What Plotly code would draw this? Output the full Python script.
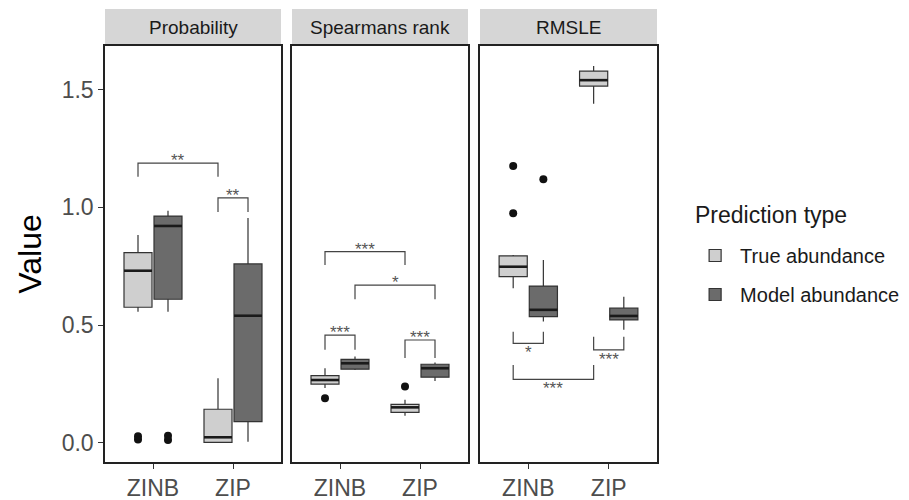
import plotly.graph_objects as go
from plotly.subplots import make_subplots

# ---------------- data ----------------
categories = ["ZINB", "ZIP"]
metrics = ["Probability", "Spearmans rank", "RMSLE"]
types = ["True abundance", "Model abundance"]
legend_title = "Prediction type"

# box statistics per metric & type: [lowerfence, q1, median, q3, upperfence] for ZINB, ZIP
prob_true_zinb = [0.557, 0.576, 0.731, 0.808, 0.883]
prob_true_zip = [0.000, 0.002, 0.024, 0.143, 0.275]
prob_model_zinb = [0.557, 0.610, 0.921, 0.963, 0.986]
prob_model_zip = [0.005, 0.090, 0.540, 0.760, 0.955]

spear_true_zinb = [0.233, 0.250, 0.267, 0.286, 0.317]
spear_true_zip = [0.115, 0.130, 0.151, 0.164, 0.183]
spear_model_zinb = [0.310, 0.313, 0.338, 0.355, 0.367]
spear_model_zip = [0.263, 0.279, 0.317, 0.334, 0.341]

rmsle_true_zinb = [0.657, 0.706, 0.748, 0.794, 0.798]
rmsle_true_zip = [1.440, 1.515, 1.540, 1.578, 1.600]
rmsle_model_zinb = [0.515, 0.536, 0.565, 0.666, 0.777]
rmsle_model_zip = [0.480, 0.522, 0.539, 0.572, 0.621]

# outliers per metric & type: [ZINB points, ZIP points]
prob_true_out = [[0.015, 0.028], []]
prob_model_out = [[0.012, 0.030], []]
spear_true_out = [[0.190], [0.239]]
spear_model_out = [[], []]
rmsle_true_out = [[0.975, 1.176], []]
rmsle_model_out = [[1.119], []]

# significance brackets
br_panel = [0, 0, 1, 1, 1, 1, 2, 2, 2]
br_from = [("ZINB", 0), ("ZIP", 0), ("ZINB", 0), ("ZINB", 1), ("ZINB", 0), ("ZIP", 0), ("ZINB", 0), ("ZIP", 0), ("ZINB", 0)]
br_to = [("ZIP", 0), ("ZIP", 1), ("ZIP", 0), ("ZIP", 1), ("ZINB", 1), ("ZIP", 1), ("ZINB", 1), ("ZIP", 1), ("ZIP", 0)]
br_level = [1.188, 1.040, 0.812, 0.670, 0.458, 0.437, 0.423, 0.395, 0.270]
br_tip = [1.130, 0.980, 0.755, 0.610, 0.395, 0.360, 0.472, 0.451, 0.331]
br_label = ["**", "**", "***", "*", "***", "***", "*", "***", "***"]

y_ticks = [0.0, 0.5, 1.0, 1.5]
y_range = [-0.081, 1.685]

# ---------------- style ----------------
FONT = "Liberation Sans, Arial, sans-serif"
fill_colors = ["#cfcfcf", "#6b6b6b"]
LINE = "#333333"
DODGE = 0.1875
BOX_W = 0.35

stats = {
    0: [(prob_true_zinb, prob_true_zip, prob_true_out), (prob_model_zinb, prob_model_zip, prob_model_out)],
    1: [(spear_true_zinb, spear_true_zip, spear_true_out), (spear_model_zinb, spear_model_zip, spear_model_out)],
    2: [(rmsle_true_zinb, rmsle_true_zip, rmsle_true_out), (rmsle_model_zinb, rmsle_model_zip, rmsle_model_out)],
}

fig = make_subplots(rows=1, cols=3, shared_yaxes=True, horizontal_spacing=0.02)

for p in range(3):
    for t in range(2):
        a, b, outs = stats[p][t]
        off = -DODGE if t == 0 else DODGE
        pos = [i + off for i in range(len(categories))]
        has_pts = any(len(o) for o in outs)
        fig.add_trace(go.Box(
            x=pos,
            lowerfence=[a[0], b[0]], q1=[a[1], b[1]], median=[a[2], b[2]],
            q3=[a[3], b[3]], upperfence=[a[4], b[4]],
            y=outs if has_pts else None, width=BOX_W,
            boxpoints="outliers" if has_pts else False, jitter=0, pointpos=0,
            name=types[t], legendgroup=types[t], showlegend=(p == 0),
            fillcolor=fill_colors[t],
            line=dict(color=LINE, width=1.2),
            marker=dict(color="#111111", size=8, line=dict(width=0)),
            whiskerwidth=0,
        ), row=1, col=p + 1)
        # thicker median line (ggplot style)
        mx, my = [], []
        for j, s in enumerate([a, b]):
            mx += [pos[j] - BOX_W / 2, pos[j] + BOX_W / 2, None]
            my += [s[2], s[2], None]
        fig.add_trace(go.Scatter(x=mx, y=my, mode="lines", line=dict(color="#1a1a1a", width=2.6),
                                 showlegend=False, hoverinfo="skip"), row=1, col=p + 1)

PW = 552.0
doms = [[0, 176 / PW], [187 / PW, 363 / PW], [375 / PW, 1.0]]
shapes = []
annotations = []
for p in range(3):
    ax = "xaxis" if p == 0 else f"xaxis{p+1}"
    fig.layout[ax].update(
        domain=doms[p], range=[-0.6, 1.6], showline=True, mirror=True,
        linecolor="#222222", linewidth=1.5, ticks="outside", ticklen=5,
        tickcolor="#333333", tickwidth=1.3, showgrid=False, zeroline=False,
        tickvals=list(range(len(categories))), ticktext=categories,
        tickfont=dict(family=FONT, size=23, color="#4d4d4d"),
    )
    ay = "yaxis" if p == 0 else f"yaxis{p+1}"
    fig.layout[ay].update(
        range=y_range, showline=True, mirror=True, linecolor="#222222",
        linewidth=1.5, showgrid=False, zeroline=False,
    )
    # strip
    shapes.append(dict(type="rect", xref=f"x{'' if p == 0 else p+1} domain", yref="paper",
                       x0=0, x1=1, y0=1 + 1.5 / 416, y1=1 + 37 / 416,
                       fillcolor="#d6d6d6", line=dict(width=0), layer="below"))
    annotations.append(dict(text=metrics[p], xref=f"x{'' if p == 0 else p+1} domain", yref="paper",
                            x=0.5, y=1 + 19 / 416, showarrow=False,
                            font=dict(family=FONT, size=19, color="#1a1a1a"),
                            xanchor="center", yanchor="middle"))

fig.layout.yaxis.update(
    tickvals=y_ticks, ticktext=[f"{v:.1f}" for v in y_ticks], ticks="outside",
    ticklen=5, tickcolor="#333333", tickwidth=1.3,
    tickfont=dict(family=FONT, size=23, color="#4d4d4d"),
    title=dict(text="Value", font=dict(family=FONT, size=32, color="#000000"), standoff=10),
)
for ay in ["yaxis2", "yaxis3"]:
    fig.layout[ay].update(showticklabels=False, ticks="")

# brackets
for i in range(len(br_panel)):
    p = br_panel[i]
    xr = "x" if p == 0 else f"x{p+1}"
    yr = "y" if p == 0 else f"y{p+1}"
    x0 = categories.index(br_from[i][0]) + (-DODGE if br_from[i][1] == 0 else DODGE)
    x1 = categories.index(br_to[i][0]) + (-DODGE if br_to[i][1] == 0 else DODGE)
    lv, tp = br_level[i], br_tip[i]
    shapes.append(dict(type="path", xref=xr, yref=yr,
                       path=f"M {x0},{tp} L {x0},{lv} L {x1},{lv} L {x1},{tp}",
                       line=dict(color="#444444", width=1.2)))
    above = tp < lv
    annotations.append(dict(text=br_label[i], xref=xr, yref=yr, x=(x0 + x1) / 2, y=lv,
                            showarrow=False, xanchor="center",
                            yanchor="bottom" if above else "top",
                            yshift=-9 if above else 2,
                            font=dict(family=FONT, size=17, color="#555555")))

# legend title as separate text
annotations.append(dict(text=legend_title, xref="paper", yref="paper",
                        x=(693 - 105) / PW, y=(462 - 215) / 416.0, xanchor="left", yanchor="middle",
                        showarrow=False, font=dict(family=FONT, size=23, color="#1a1a1a")))

fig.update_layout(
    width=909, height=500,
    margin=dict(l=97, r=260, t=38, b=46, autoexpand=False),
    paper_bgcolor="white", plot_bgcolor="white",
    boxmode="overlay",
    shapes=shapes, annotations=annotations,
    legend=dict(
        x=1.06, xanchor="left", y=(462 - 236) / 416.0, yanchor="top",
        font=dict(family=FONT, size=20, color="#1a1a1a"),
        tracegroupgap=10, itemwidth=40,
    ),
    font=dict(family=FONT),
)

fig.write_html("out.html")
